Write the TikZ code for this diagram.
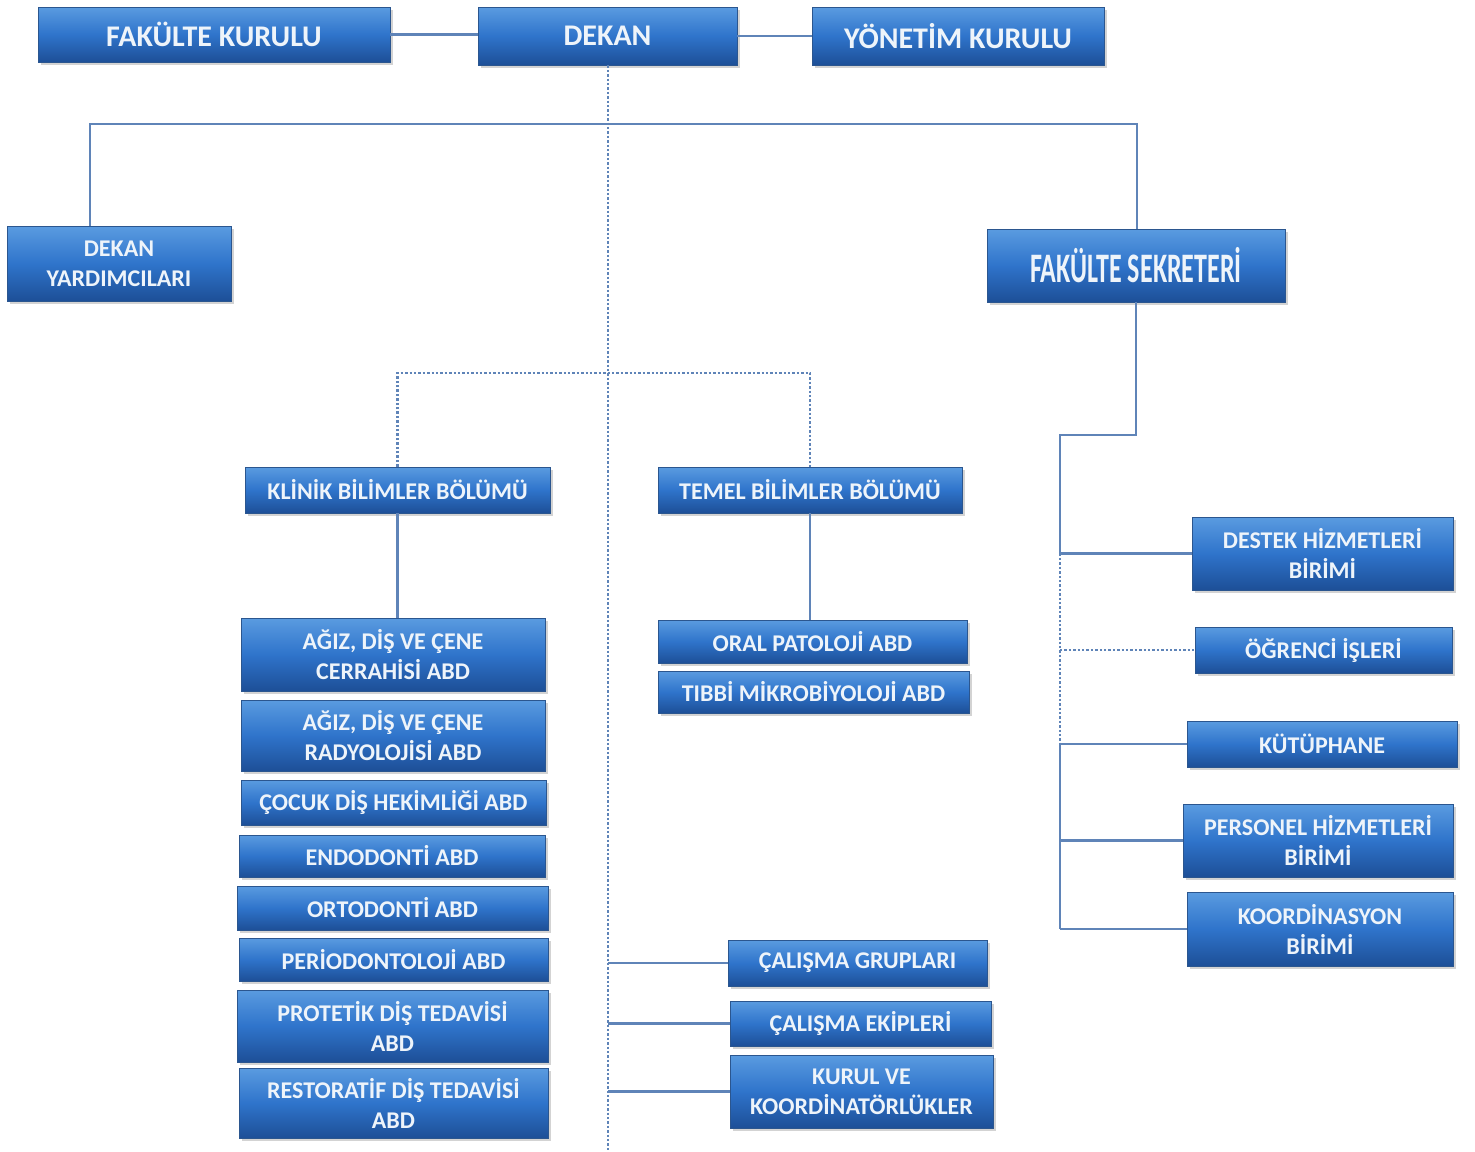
\documentclass[tikz,border=0pt]{standalone}
\usepackage{fontspec}
\setmainfont{Carlito}
\usetikzlibrary{shadows}

\definecolor{ustmavi}{HTML}{5A9BE0}
\definecolor{ortamavi}{HTML}{2F74CB}
\definecolor{altmavi}{HTML}{1D4F97}
\definecolor{kenar}{HTML}{2B568F}
\definecolor{cizgi}{HTML}{5F84B8}
\definecolor{yazi}{HTML}{EEF4FA}

\tikzset{
  kutu/.style={draw=kenar, line width=0.4pt, top color=ustmavi, bottom color=altmavi,
    middle color=ortamavi, drop shadow={opacity=0.35, shadow xshift=1.5pt, shadow yshift=-1.5pt},
    inner sep=0pt, align=center, text=yazi, font=\bfseries\fontsize{12}{15}\selectfont},
  boyut/.style 2 args={minimum width=#1*0.5pt, minimum height=#2*0.5pt},
  buyuk/.style={font=\bfseries\fontsize{15}{18}\selectfont},
  hat/.style={draw=cizgi, line width=1.2pt},
  nokta/.style={hat, densely dotted},
}

\begin{document}
\begin{tikzpicture}[x=0.5pt,y=-0.5pt]
\useasboundingbox (0,0) rectangle (1475,1151);

% ust kurullar
\node[kutu,buyuk,boyut={352}{55}] (fk) at (214,34.5) {FAKÜLTE KURULU};
\node[kutu,buyuk,boyut={259}{58}] (dekan) at (607.5,36) {DEKAN};
\node[kutu,buyuk,boyut={292}{58}] (yk) at (958,36) {YÖNETİM KURULU};

\node[kutu,boyut={224}{75}] (dy) at (119,263.5) {DEKAN\\YARDIMCILARI};
\node[kutu,boyut={298}{73}] (fs) at (1136,265.5)
  {\fontsize{21}{24}\selectfont\scalebox{0.62}[1]{FAKÜLTE SEKRETERİ}};

% bolumler
\node[kutu,boyut={305}{46}] (klinik) at (397.5,490) {KLİNİK BİLİMLER BÖLÜMÜ};
\node[kutu,boyut={304}{46}] (temel) at (810,490) {TEMEL BİLİMLER BÖLÜMÜ};

\node[kutu,boyut={304}{73}] (cerrahi) at (393,654.5) {AĞIZ, DİŞ VE ÇENE\\CERRAHİSİ ABD};
\node[kutu,boyut={304}{71}] (radyoloji) at (393,735.5) {AĞIZ, DİŞ VE ÇENE\\RADYOLOJİSİ ABD};
\node[kutu,boyut={305}{45}] (cocuk) at (393.5,802.5) {ÇOCUK DİŞ HEKİMLİĞİ ABD};
\node[kutu,boyut={306}{42}] (endo) at (392,856) {ENDODONTİ ABD};
\node[kutu,boyut={311}{44}] (orto) at (392.5,908) {ORTODONTİ ABD};
\node[kutu,boyut={309}{43}] (perio) at (393.5,959.5) {PERİODONTOLOJİ ABD};
\node[kutu,boyut={311}{72}] (protetik) at (392.5,1026) {PROTETİK DİŞ TEDAVİSİ\\ABD};
\node[kutu,boyut={309}{70}] (restoratif) at (393.5,1103) {RESTORATİF DİŞ TEDAVİSİ\\ABD};

\node[kutu,boyut={309}{43}] (oral) at (812.5,641.5) {ORAL PATOLOJİ ABD};
\node[kutu,boyut={311}{42}] (mikro) at (813.5,692) {TIBBİ MİKROBİYOLOJİ ABD};

% idari birimler
\node[kutu,boyut={261}{73}] (destek) at (1322.5,553.5) {DESTEK HİZMETLERİ\\BİRİMİ};
\node[kutu,boyut={257}{46}] (ogrenci) at (1323.5,650) {ÖĞRENCİ İŞLERİ};
\node[kutu,boyut={270}{46}] (kutup) at (1322,744) {KÜTÜPHANE};
\node[kutu,boyut={270}{73}] (personel) at (1318,840.5) {PERSONEL HİZMETLERİ\\BİRİMİ};
\node[kutu,boyut={266}{74}] (koord) at (1320,929) {KOORDİNASYON\\BİRİMİ};

\node[kutu,boyut={259}{46}] (cg) at (857.5,963) {ÇALIŞMA GRUPLARI};
\node[kutu,boyut={261}{45}] (ce) at (860.5,1023.5) {ÇALIŞMA EKİPLERİ};
\node[kutu,boyut={263}{73}] (kk) at (861.5,1091.5) {KURUL VE\\KOORDİNATÖRLÜKLER};

\coordinate (sol) at (90,124);
\coordinate (sag) at (1137,124);
\coordinate (bl) at (395,373);
\coordinate (br) at (812,373);
\coordinate (sk) at (1060,435);
\coordinate (alt) at (608,1151);

% baglantilar
\draw[hat] (fk.east) -- (fk.east -| dekan.west);
\draw[hat] (dekan.east) -- (yk.west);
\draw[hat] (dy.north -| sol) -- (sol) -- (sag) -- (fs.north -| sag);
\draw[nokta] (dekan.south -| alt) -- (alt);
\draw[nokta] (klinik.north) -- (klinik.north |- bl) -- (temel.north |- br) -- (temel.north);
\draw[hat] (klinik.south) -- (klinik.south |- cerrahi.north);
\draw[hat] (temel.south) -- (temel.south |- oral.north);

\draw[hat] (fs.south) -- (fs.south |- sk) -- (sk) -- (sk |- destek.west);
\draw[nokta] (sk |- destek.west) -- (sk |- kutup.west);
\draw[hat] (sk |- kutup.west) -- (sk |- koord.west);
\draw[hat] (sk |- destek.west) -- (destek.west);
\draw[nokta] (sk |- ogrenci.west) -- (ogrenci.west);
\draw[hat] (sk |- kutup.west) -- (kutup.west);
\draw[hat] (sk |- personel.west) -- (personel.west);
\draw[hat] (sk |- koord.west) -- (koord.west);

\draw[hat] (cg.west -| alt) -- (cg.west);
\draw[hat] (ce.west -| alt) -- (ce.west);
\draw[hat] (kk.west -| alt) -- (kk.west);
\end{tikzpicture}
\end{document}
